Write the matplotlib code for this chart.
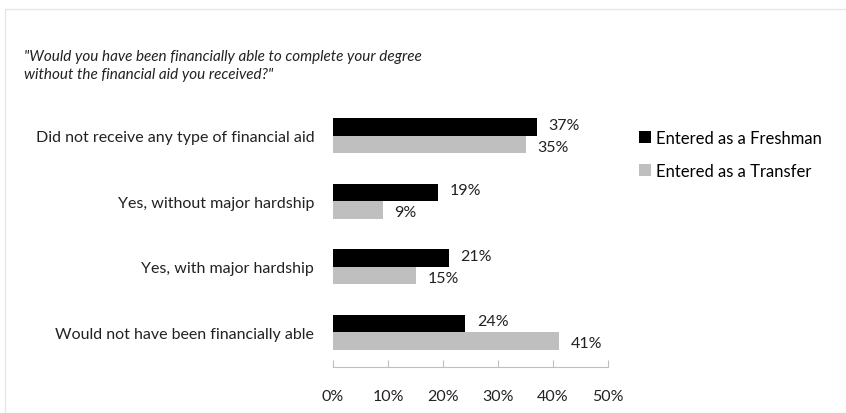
import numpy as np
import matplotlib.pyplot as plt
from matplotlib.patches import Rectangle

## data ##
categories = ["Did not receive any type of financial aid",
              "Yes, without major hardship",
              "Yes, with major hardship",
              "Would not have been financially able"]
freshman = [37, 19, 21, 24]
transfer = [35, 9, 15, 41]
series_names = ["Entered as a Freshman", "Entered as a Transfer"]
xticks = [0, 10, 20, 30, 40, 50]

plt.rcParams['font.family'] = ['Lato', 'DejaVu Sans']

fig = plt.figure(figsize=(8.46, 4.14), dpi=100)
ax = fig.add_axes([333 / 846, 1 - 368 / 414, 275 / 846, 266 / 414])

# faint frame around chart area
fig.patches.append(Rectangle((5 / 846, 0), 1, 1 - 10 / 414, transform=fig.transFigure,
                             fill=False, edgecolor='#e6e6e6', linewidth=1))

y = np.arange(len(categories))
h = 0.27
b1 = ax.barh(y - h / 2, freshman, height=h, color='black', label=series_names[0])
b2 = ax.barh(y + h / 2, transfer, height=h, color='#bfbfbf', label=series_names[1])

for v, yy in zip(freshman, y - h / 2):
    ax.text(v + 2.2, yy - 0.03, f"{v}%", va='center', ha='left', fontsize=11.5, color='#222222')
for v, yy in zip(transfer, y + h / 2):
    ax.text(v + 2.2, yy + 0.03, f"{v}%", va='center', ha='left', fontsize=11.5, color='#222222')

ax.set_ylim(len(categories) - 0.47, -0.53)
ax.set_xlim(0, 50)
ax.set_yticks(y)
ax.set_yticklabels(categories, fontsize=11.5, color='#222222')
ax.tick_params(axis='y', length=0, pad=13.5)
ax.set_xticks(xticks)
ax.set_xticklabels([f"{t}%" for t in xticks], fontsize=11.5, color='#222222')
ax.tick_params(axis='x', direction='in', length=5, color='#bfbfbf', pad=16)

for s in ['top', 'right', 'left']:
    ax.spines[s].set_visible(False)
ax.spines['bottom'].set_color('#bfbfbf')

fig.text(24 / 846, 1 - 66 / 414, "\"Would you have been financially able to complete your degree\nwithout the financial aid you received?\"",
         fontsize=11, style='italic', va='center', ha='left',
         color='#222222', linespacing=1.4)

fig.legend(handles=[b1, b2], labels=series_names, loc='upper left',
           bbox_to_anchor=(624 / 846, 1 - 116 / 414), frameon=False,
           fontsize=12, handlelength=0.7, handleheight=0.7, handletextpad=0.35,
           labelspacing=1.0)

fig.savefig('out.png', dpi=100)
